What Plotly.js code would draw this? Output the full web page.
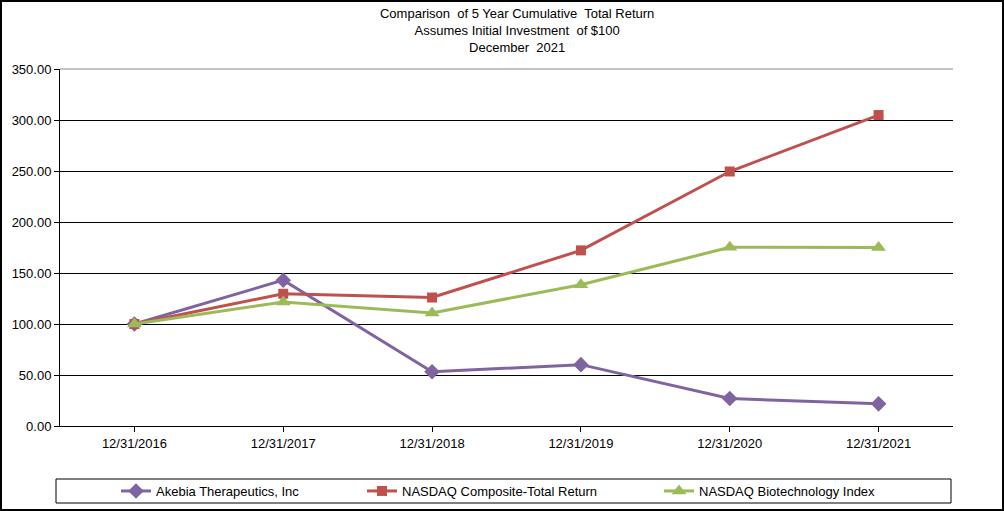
<!DOCTYPE html>
<html>
<head>
<meta charset="utf-8">
<script src="https://cdn.plot.ly/plotly-3.0.1.min.js"></script>
<style>
html,body{margin:0;padding:0;background:#fff;overflow:hidden;}
#chart{width:1004px;height:511px;}
</style>
</head>
<body>
<div id="chart"></div>
<script>
const categories = ["12/31/2016","12/31/2017","12/31/2018","12/31/2019","12/31/2020","12/31/2021"];
const akebia = [100.00, 142.96, 53.17, 60.15, 26.92, 21.73];
const nasdaqComposite = [100.00, 129.64, 125.96, 172.17, 249.51, 304.85];
const nasdaqBiotech = [100.00, 121.63, 110.85, 138.55, 175.15, 175.09];
const seriesNames = ["Akebia Therapeutics, Inc","NASDAQ Composite-Total Return","NASDAQ Biotechnology Index"];
const yTicks = [0,50,100,150,200,250,300,350];

const W = 1004, H = 511;
const M = {l:60, r:51, t:69, b:85, autoexpand: false};
const pw = W - M.l - M.r, ph = H - M.t - M.b;
const px = v => (v - M.l) / pw;           // page x -> paper x
const py = v => (H - M.b - v) / ph;       // page y -> paper y

const fam = "Liberation Sans, Arial, sans-serif";
const font = {family: fam, size: 13, color: "#000"};

const traces = [
  {x: categories, y: akebia, name: seriesNames[0], mode: "lines+markers",
   line: {color: "#8064A2", width: 3}, marker: {symbol: "diamond", size: 12, color: "#8064A2"}, legend: "legend"},
  {x: categories, y: nasdaqComposite, name: seriesNames[1], mode: "lines+markers",
   line: {color: "#C0504D", width: 3}, marker: {symbol: "square", size: 10, color: "#C0504D"}, legend: "legend2"},
  {x: categories, y: nasdaqBiotech, name: seriesNames[2], mode: "lines+markers",
   line: {color: "#9BBB59", width: 3}, marker: {symbol: "triangle-up", size: 13, color: "#9BBB59"}, legend: "legend3"}
];

const legBase = {orientation: "h", yanchor: "middle", xanchor: "left", y: py(491),
  font: {family: fam, size: 13, color: "#000"}, bgcolor: "rgba(0,0,0,0)", borderwidth: 0, itemwidth: 30};

const layout = {
  width: W, height: H,
  margin: M,
  paper_bgcolor: "#fff", plot_bgcolor: "#fff",
  font: font,
  title: {text: "Comparison  of 5 Year Cumulative  Total Return<br>Assumes Initial Investment  of $100<br>December  2021",
          font: {family: fam, size: 13, color: "#000"}, x: px(520), xanchor: "center",
          yref: "container", y: 1 - 18/H, yanchor: "top"},
  xaxis: {type: "category", range: [-0.5, 5.5], showgrid: false, showline: true, linecolor: "#000", linewidth: 1,
          ticks: "outside", ticklen: 5, tickcolor: "#000", tickfont: font, zeroline: false, fixedrange: true},
  yaxis: {range: [0, 350], tickvals: yTicks, tickformat: ".2f", showgrid: true, gridcolor: "#000", gridwidth: 1,
          showline: true, linecolor: "#000", linewidth: 1, ticks: "outside", ticklen: 5, tickcolor: "#000",
          tickfont: font, zeroline: false, fixedrange: true},
  showlegend: true,
  legend: Object.assign({}, legBase, {x: px(116)}),
  legend2: Object.assign({}, legBase, {x: px(362)}),
  legend3: Object.assign({}, legBase, {x: px(659)}),
  shapes: [
    {type: "line", xref: "paper", yref: "paper", x0: 0, x1: 1, y0: 1, y1: 1, line: {color: "#888", width: 1}},
    {type: "rect", xref: "paper", yref: "paper", x0: px(56), x1: px(951), y0: py(479), y1: py(503), line: {color: "#000", width: 1}},
    {type: "rect", xref: "paper", yref: "paper", x0: px(1), x1: px(1003), y0: py(1), y1: py(510), line: {color: "#000", width: 2}}
  ]
};

Plotly.newPlot("chart", traces, layout, {displayModeBar: false, staticPlot: true});
</script>
</body>
</html>
